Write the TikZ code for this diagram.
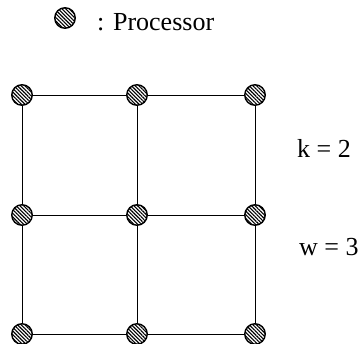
\documentclass[tikz,border=0pt]{standalone}
\usepackage{fontspec}
\setmainfont{Liberation Serif}
\usetikzlibrary{patterns.meta}
\begin{document}
\begin{tikzpicture}[x=1pt,y=-1pt,
  proc/.style={circle,draw=black,line width=1.4pt,minimum size=20.5pt,inner sep=0pt,
    pattern={Lines[angle=-45,distance=2.6pt,line width=1.1pt]},pattern color=black},
  link/.style={draw=black,line width=0.8pt},
  lbl/.style={font=\fontsize{26}{28}\selectfont,inner sep=0pt}]
\useasboundingbox (0,0) rectangle (363,344);
\node[proc] (leg) at (65,18) {};
\node[lbl,anchor=base west] (legt) at (97,31) {: Processor};
\foreach \c/\x in {1/22,2/137,3/255}{
  \foreach \r/\y in {1/95,2/215,3/334}{
    \node[proc] (n\r\c) at (\x,\y) {};
  }
}
\foreach \r in {1,2,3}{
  \draw[link] (n\r1) -- (n\r2);
  \draw[link] (n\r2) -- (n\r3);
}
\foreach \c in {1,2,3}{
  \draw[link] (n1\c) -- (n2\c);
  \draw[link] (n2\c) -- (n3\c);
}
\node[lbl,anchor=base west] (k) at (297,158) {k = 2};
\node[lbl,anchor=base west] (w) at (299,255) {w = 3};
\end{tikzpicture}
\end{document}
